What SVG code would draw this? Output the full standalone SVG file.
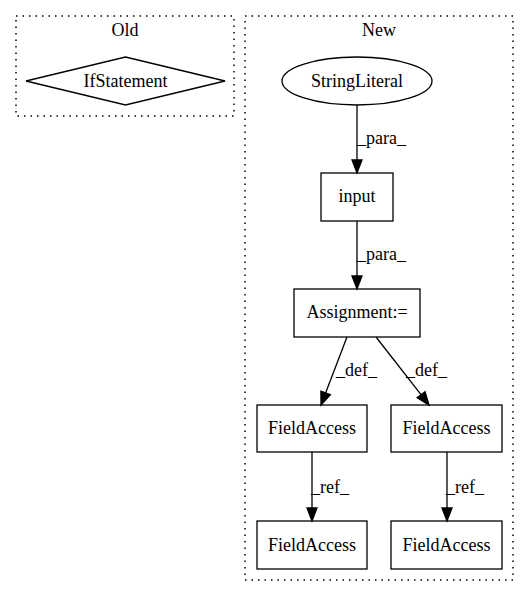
<svg xmlns="http://www.w3.org/2000/svg" width="529" height="596" viewBox="0 0 529 596">
<style>
text{font-family:"Liberation Serif","Times New Roman",serif;font-size:18px;fill:#000}
.c{text-anchor:middle}
.cl{fill:none;stroke:#000;stroke-dasharray:1.5,5;stroke-width:1.5}
.n{fill:none;stroke:#000;stroke-width:1.3}
.e{fill:none;stroke:#000;stroke-width:1.3}
.ah{fill:#000;stroke:#000;stroke-width:1.3}
</style>
<rect width="529" height="596" fill="#fff"/>
<g id="cluster_old">
<rect class="cl" x="16" y="16" width="218" height="100"/>
<text class="c" x="125" y="36">Old</text>
</g>
<g id="cluster_new">
<rect class="cl" x="245" y="16" width="268" height="564"/>
<text class="c" x="379" y="36">New</text>
</g>
<g id="ifstatement">
<polygon class="n" points="125.5,57 225,81 125.5,105 26,81"/>
<text class="c" x="125.5" y="87">IfStatement</text>
</g>
<g id="stringliteral">
<ellipse class="n" cx="357" cy="81" rx="75" ry="24"/>
<text class="c" x="357" y="87">StringLiteral</text>
</g>
<g id="input">
<rect class="n" x="321" y="173" width="72" height="48"/>
<text class="c" x="357" y="202">input</text>
</g>
<g id="assignment">
<rect class="n" x="294" y="289" width="126" height="48"/>
<text class="c" x="357" y="318">Assignment:=</text>
</g>
<g id="fa1">
<rect class="n" x="257" y="405" width="110" height="47"/>
<text class="c" x="312" y="434">FieldAccess</text>
</g>
<g id="fa2">
<rect class="n" x="391" y="405" width="111" height="47"/>
<text class="c" x="446.5" y="434">FieldAccess</text>
</g>
<g id="fa3">
<rect class="n" x="257" y="521" width="110" height="48"/>
<text class="c" x="312" y="551">FieldAccess</text>
</g>
<g id="fa4">
<rect class="n" x="391" y="521" width="111" height="48"/>
<text class="c" x="446.5" y="551">FieldAccess</text>
</g>
<g id="edges">
<path class="e" d="M357,105 L357,160"/>
<polygon class="ah" points="352,160 362,160 357,173"/>
<text x="357" y="144">_para_</text>
<path class="e" d="M357,221 L357,276"/>
<polygon class="ah" points="352,276 362,276 357,289"/>
<text x="357" y="260">_para_</text>
<path class="e" d="M347,337 L325.6,392.9"/>
<polygon class="ah" points="330.3,394.7 320.9,391.1 321,405"/>
<text x="336" y="376">_def_</text>
<path class="e" d="M376,337 L421,394.7"/>
<polygon class="ah" points="425,391.7 417.1,397.8 429,405"/>
<text x="406" y="376">_def_</text>
<path class="e" d="M312,452 L312,508"/>
<polygon class="ah" points="307,508 317,508 312,521"/>
<text x="311" y="493">_ref_</text>
<path class="e" d="M447,452 L447,508"/>
<polygon class="ah" points="442,508 452,508 447,521"/>
<text x="446" y="493">_ref_</text>
</g>
</svg>
